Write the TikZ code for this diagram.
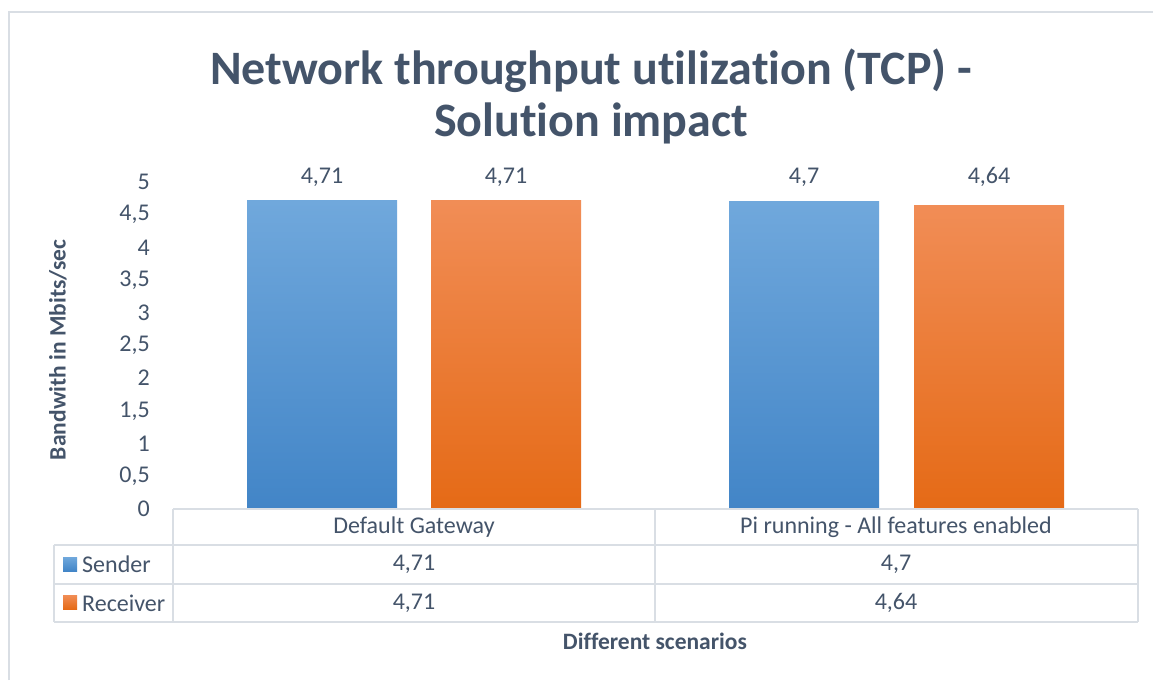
\documentclass[tikz,border=0pt]{standalone}
\usepackage{fontspec}
\setmainfont{Carlito}[Ligatures=NoCommon]
\definecolor{txt}{HTML}{44546A}
\definecolor{rule}{HTML}{D9DEE4}
\definecolor{sendTop}{HTML}{70A8DC}
\definecolor{sendBot}{HTML}{4285C7}
\definecolor{recvTop}{HTML}{F18D56}
\definecolor{recvBot}{HTML}{E56A16}
\tikzset{
  lbl/.style={text=txt, inner sep=0pt, font=\fontsize{24}{28}\selectfont},
  axtitle/.style={text=txt, inner sep=0pt, font=\fontsize{23.5}{28}\selectfont\bfseries},
  tick/.style={lbl, anchor=east},
  sendbar/.style={top color=sendTop, bottom color=sendBot},
  recvbar/.style={top color=recvTop, bottom color=recvBot},
  tabline/.style={draw=rule, line width=2pt},
}
\begin{document}
\begin{tikzpicture}[x=1pt, y=-1pt]
  \useasboundingbox (0,0) rectangle (1153,680);
  \fill[white] (0,0) rectangle (1153,680);
  % chart frame (left and top edges)
  \draw[rule, line width=2pt] (9,680) -- (9,12) -- (1153,12);

  % title
  \node[text=txt, align=center, inner sep=0pt,
        font=\fontsize{48}{52}\selectfont\bfseries] (title) at (591,96)
        {Network throughput utilization (TCP) -\\Solution impact};

  % value axis labels: y = 509 - 65.4 v
  \foreach \v/\t [count=\i] in {0/0,0.5/{0,5},1/1,1.5/{1,5},2/2,2.5/{2,5},3/3,3.5/{3,5},4/4,4.5/{4,5},5/5}
    \node[tick] (tick\i) at (150,{509-65.4*\v}) {\t};

  \node[axtitle, rotate=90] (ytitle) at (58,350) {Bandwith in Mbits/sec};

  % bars
  \shade[sendbar] (247,509) rectangle (397,{509-65.4*4.71});
  \shade[recvbar] (431,509) rectangle (581,{509-65.4*4.71});
  \shade[sendbar] (729,509) rectangle (879,{509-65.4*4.70});
  \shade[recvbar] (914,509) rectangle (1064,{509-65.4*4.64});

  % data labels
  \node[lbl] (d1) at (322,177) {4,71};
  \node[lbl] (d2) at (506,177) {4,71};
  \node[lbl] (d3) at (804,177) {4,7};
  \node[lbl] (d4) at (989,177) {4,64};

  % data table
  \draw[tabline] (173,509) -- (1138,509);
  \draw[tabline] (54,545) -- (1138,545);
  \draw[tabline] (54,584) -- (1138,584);
  \draw[tabline] (54,622) -- (1138,622);
  \draw[tabline] (54,545) -- (54,622);
  \draw[tabline] (173,509) -- (173,622);
  \draw[tabline] (655,509) -- (655,622);
  \draw[tabline] (1138,509) -- (1138,622);

  \node[lbl] (cat1) at (414,527) {Default Gateway};
  \node[lbl] (cat2) at (896,527) {Pi running - All features enabled};

  \shade[sendbar] (63,557) rectangle (77,571);
  \shade[recvbar] (63,595) rectangle (77,609);
  \node[lbl, anchor=west] (leg1) at (82,564) {Sender};
  \node[lbl, anchor=west] (leg2) at (82,603) {Receiver};

  \node[lbl] (s1) at (414,564) {4,71};
  \node[lbl] (s2) at (896,564) {4,7};
  \node[lbl] (r1) at (414,603) {4,71};
  \node[lbl] (r2) at (896,603) {4,64};

  \node[axtitle] (xtitle) at (655,641) {Different scenarios};
\end{tikzpicture}
\end{document}
